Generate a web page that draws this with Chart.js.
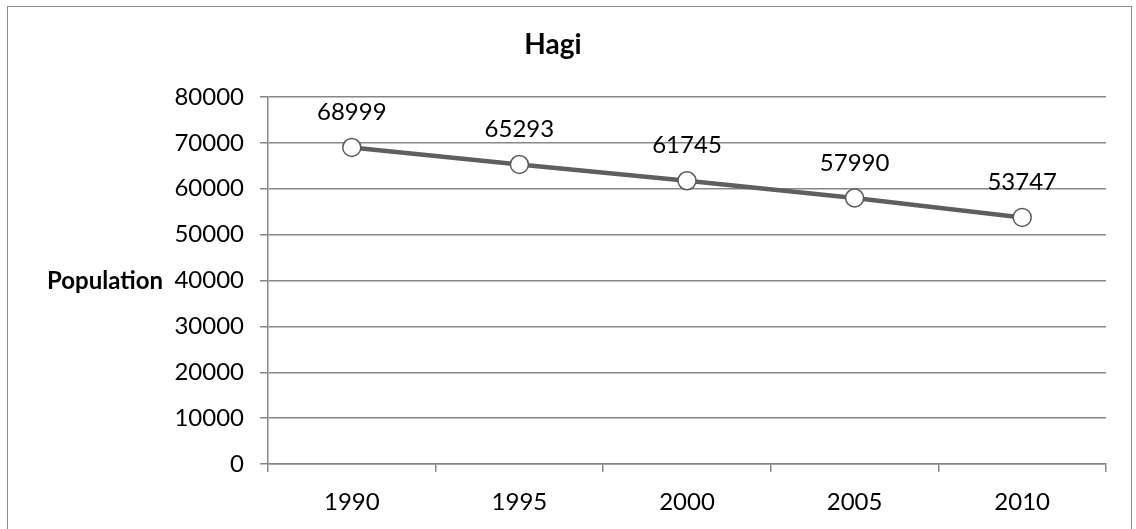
<!DOCTYPE html>
<html>
<head>
<meta charset="utf-8">
<script src="https://cdn.jsdelivr.net/npm/chart.js@4/dist/chart.umd.min.js"></script>
<style>
    html, body { margin: 0; padding: 0; background: #ffffff; }
    #wrap { position: relative; width: 1136px; height: 529px; }
</style>
</head>
<body>
<div id="wrap"><canvas id="populationChart" width="1136" height="529"></canvas></div>
<script>
const years = ["1990", "1995", "2000", "2005", "2010"];
const population = [68999, 65293, 61745, 57990, 53747];
const chartTitle = "Hagi";
const yAxisTitle = "Population";
const yTickMax = 80000;
const yTickStep = 10000;

const fontFamily = "Lato, 'Open Sans', sans-serif";
const gridColor = "#878787";

// frame round the whole chart, like the spreadsheet export
const framePlugin = {
    id: "frame",
    beforeDraw(chart) {
        const c = chart.ctx;
        c.save();
        c.fillStyle = "#ffffff";
        c.fillRect(0, 0, chart.width, chart.height);
        c.strokeStyle = "#8c8c8c";
        c.lineWidth = 1;
        c.strokeRect(7.5, 6.5, 1124, 540);
        c.restore();
    },
};

// horizontal axis title, left of the tick labels
const yTitlePlugin = {
    id: "yTitle",
    afterDraw(chart) {
        const c = chart.ctx;
        const y = chart.scales.y.getPixelForValue(40000);
        c.save();
        c.font = "bold 24px " + fontFamily;
        c.fillStyle = "#000000";
        c.textAlign = "center";
        c.textBaseline = "middle";
        c.fillText(yAxisTitle, 105, y + 1);
        c.restore();
    },
};

// value labels above each point
const valueLabelPlugin = {
    id: "valueLabels",
    afterDatasetsDraw(chart) {
        const c = chart.ctx;
        const meta = chart.getDatasetMeta(0);
        c.save();
        c.font = "24px " + fontFamily;
        c.fillStyle = "#000000";
        c.textAlign = "center";
        c.textBaseline = "middle";
        meta.data.forEach((pt, i) => {
            c.fillText(String(population[i]), pt.x, pt.y - 35);
        });
        c.restore();
    },
};

const ctx = document.getElementById("populationChart").getContext("2d");
new Chart(ctx, {
    type: "line",
    data: {
        labels: years,
        datasets: [{
            label: yAxisTitle,
            data: population,
            borderColor: "#5f5f5f",
            borderWidth: 4.5,
            pointRadius: 9,
            pointHoverRadius: 9,
            pointBackgroundColor: "#ffffff",
            pointBorderColor: "#5a5a5a",
            pointBorderWidth: 1.5,
            tension: 0,
        }],
    },
    options: {
        responsive: false,
        animation: false,
        events: [],
        layout: { padding: { top: 0, right: 30, bottom: 0, left: 0 } },
        plugins: {
            legend: { display: false },
            tooltip: { enabled: false },
            title: {
                display: true,
                text: chartTitle,
                color: "#000000",
                font: { family: fontFamily, size: 28, weight: "bold" },
                padding: { top: 28, bottom: 35.4 },
            },
        },
        scales: {
            x: {
                offset: true,
                grid: {
                    offset: true,
                    drawOnChartArea: false,
                    drawTicks: true,
                    tickLength: 8,
                    color: gridColor,
                    lineWidth: 1.5,
                },
                border: { color: gridColor, width: 1.5 },
                ticks: {
                    color: "#000000",
                    font: { family: fontFamily, size: 24 },
                    padding: 16,
                    maxRotation: 0,
                },
                afterFit(scale) { scale.height = 65; },
            },
            y: {
                min: 0,
                max: yTickMax,
                grid: {
                    color: gridColor,
                    lineWidth: 1.5,
                    drawTicks: true,
                    tickLength: 8,
                },
                border: { color: gridColor, width: 1.5 },
                ticks: {
                    stepSize: yTickStep,
                    color: "#000000",
                    font: { family: fontFamily, size: 24 },
                    padding: 16,
                    callback: (v) => String(v),
                },
                afterFit(scale) { scale.width = 268; },
            },
        },
    },
    plugins: [framePlugin, yTitlePlugin, valueLabelPlugin],
});
</script>
</body>
</html>
